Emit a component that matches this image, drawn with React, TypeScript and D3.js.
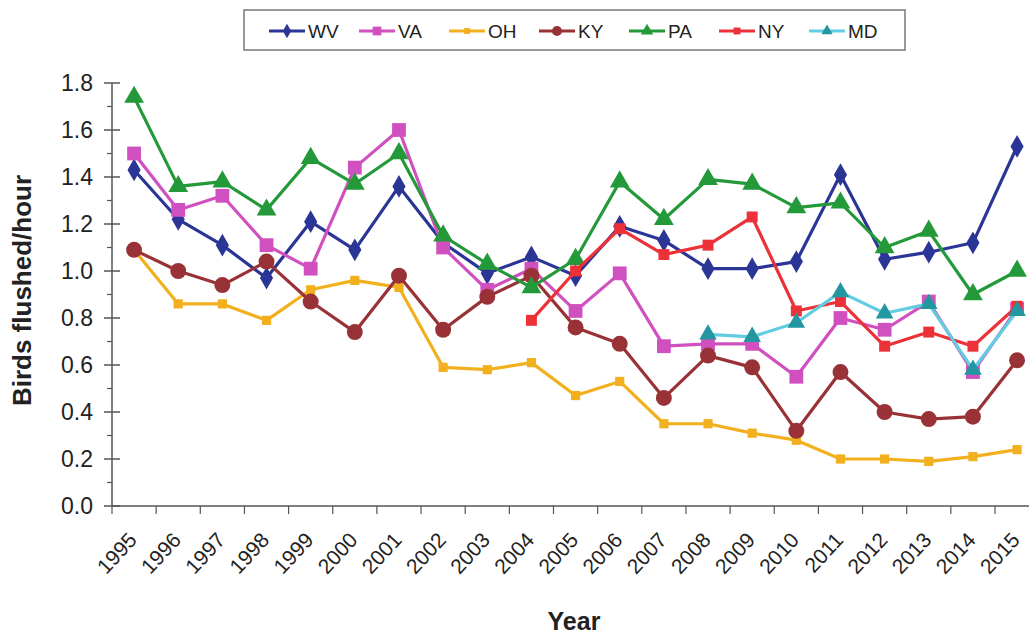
import React from 'react';
import * as d3 from 'd3';

const years = d3.range(1995, 2016).map(String);
const yTicks = [0, 0.2, 0.4, 0.6, 0.8, 1.0, 1.2, 1.4, 1.6, 1.8];

const wv = [1.43, 1.22, 1.11, 0.97, 1.21, 1.09, 1.36, 1.12, 0.99, 1.06, 0.98, 1.19, 1.13, 1.01, 1.01, 1.04, 1.41, 1.05, 1.08, 1.12, 1.53];
const va = [1.50, 1.26, 1.32, 1.11, 1.01, 1.44, 1.60, 1.10, 0.92, 1.01, 0.83, 0.99, 0.68, 0.69, 0.69, 0.55, 0.80, 0.75, 0.87, 0.57, 0.84];
const oh = [1.09, 0.86, 0.86, 0.79, 0.92, 0.96, 0.93, 0.59, 0.58, 0.61, 0.47, 0.53, 0.35, 0.35, 0.31, 0.28, 0.20, 0.20, 0.19, 0.21, 0.24];
const ky = [1.09, 1.00, 0.94, 1.04, 0.87, 0.74, 0.98, 0.75, 0.89, 0.98, 0.76, 0.69, 0.46, 0.64, 0.59, 0.32, 0.57, 0.40, 0.37, 0.38, 0.62];
const pa = [1.74, 1.36, 1.38, 1.26, 1.48, 1.37, 1.50, 1.15, 1.03, 0.93, 1.05, 1.38, 1.22, 1.39, 1.37, 1.27, 1.29, 1.10, 1.17, 0.90, 1.00];
const ny = [null, null, null, null, null, null, null, null, null, 0.79, 1.00, 1.18, 1.07, 1.11, 1.23, 0.83, 0.87, 0.68, 0.74, 0.68, 0.85];
const md = [null, null, null, null, null, null, null, null, null, null, null, null, null, 0.73, 0.72, 0.78, 0.91, 0.82, 0.86, 0.58, 0.83];

const series = [
  { name: 'WV', values: wv, line: '#2b3596', fill: '#2b3596', shape: d3.symbolDiamond, size: 150 },
  { name: 'VA', values: va, line: '#d050c0', fill: '#d050c0', shape: d3.symbolSquare, size: 190 },
  { name: 'OH', values: oh, line: '#f2b01e', fill: '#f2b01e', shape: d3.symbolSquare, size: 85 },
  { name: 'KY', values: ky, line: '#993236', fill: '#993236', shape: d3.symbolCircle, size: 200 },
  { name: 'PA', values: pa, line: '#24993a', fill: '#24993a', shape: d3.symbolTriangle, size: 170 },
  { name: 'NY', values: ny, line: '#ec3238', fill: '#ec3238', shape: d3.symbolSquare, size: 120 },
  { name: 'MD', values: md, line: '#62cde0', fill: '#22979f', shape: d3.symbolTriangle, size: 135 },
];

const W = 1029;
const H = 636;
const left = 112;
const bottom = 506;
const top = 83;

const App = () => {
  const x = d3.scaleBand().domain(years).range([left, left + 21 * 44.15]);
  const y = d3.scaleLinear().domain([0, 1.8]).range([bottom, top]);
  const cx = (i: number) => (x(years[i]) as number) + x.bandwidth() / 2;

  const line = d3.line<number | null>()
    .defined(d => d !== null)
    .x((_, i) => cx(i))
    .y(d => y(d as number));

  const minor = d3.range(0.1, 1.8, 0.2);
  const font = '"Liberation Sans", Arial, sans-serif';

  return (
    <svg width={W} height={H} style={{ position: 'absolute', left: 0, top: 0, background: '#fff' }} fontFamily={font}>
      {/* legend */}
      <rect x={244} y={10} width={661} height={40} fill="#fff" stroke="#777" strokeWidth={1.5} />
      {series.map((s, i) => {
        const lx = 269 + i * 90;
        return (
          <g key={s.name}>
            <line x1={lx} x2={lx + 36} y1={31} y2={31} stroke={s.line} strokeWidth={3} />
            <path d={d3.symbol().type(s.shape).size(s.size * 0.4)() as string}
              transform={`translate(${lx + 18},31)`} fill={s.fill} />
            <text x={lx + 39} y={38} fontSize={19} fill="#222">{s.name}</text>
          </g>
        );
      })}

      {/* y axis */}
      <line x1={left} x2={left} y1={top} y2={bottom} stroke="#555" strokeWidth={1.5} />
      {yTicks.map(t => (
        <g key={t}>
          <line x1={left - 8} x2={left + 8} y1={y(t)} y2={y(t)} stroke="#555" strokeWidth={1.5} />
          <text x={93} y={y(t)} dy="0.36em" textAnchor="end" fontSize={23} fill="#222">{t.toFixed(1)}</text>
        </g>
      ))}
      {minor.map(t => (
        <line key={t} x1={left - 5} x2={left} y1={y(t)} y2={y(t)} stroke="#555" strokeWidth={1.2} />
      ))}
      <text transform={`translate(31,${(top + bottom) / 2 - 4}) rotate(-90)`} textAnchor="middle"
        fontSize={26} fontWeight="bold" fill="#222">Birds flushed/hour</text>

      {/* x axis */}
      <line x1={left} x2={W} y1={bottom} y2={bottom} stroke="#555" strokeWidth={1.5} />
      {years.map((yr, i) => (
        <g key={yr}>
          <line x1={x(yr) as number} x2={x(yr) as number} y1={bottom} y2={bottom + 8} stroke="#555" strokeWidth={1.2} />
          <text transform={`translate(${cx(i) + 4},${bottom + 35}) rotate(-47)`} textAnchor="end"
            fontSize={21} fill="#222">{yr}</text>
        </g>
      ))}
      <text x={574} y={630} textAnchor="middle" fontSize={25} fontWeight="bold" fill="#222">Year</text>

      {/* series */}
      {series.map(s => (
        <g key={s.name}>
          <path d={line(s.values) as string} fill="none" stroke={s.line} strokeWidth={3.2} strokeLinejoin="round" />
          {s.values.map((v, i) => v === null ? null : (
            <path key={i} d={d3.symbol().type(s.shape).size(s.size)() as string}
              transform={`translate(${cx(i)},${y(v)})`} fill={s.fill} />
          ))}
        </g>
      ))}
    </svg>
  );
};

export default App;
